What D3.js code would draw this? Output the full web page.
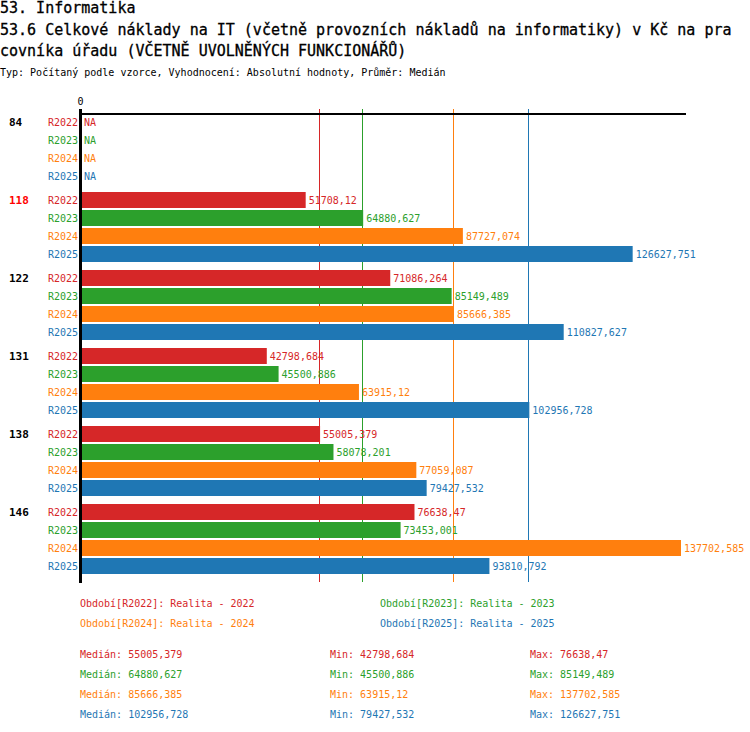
<!DOCTYPE html>
<html>
<head>
<meta charset="utf-8">
<script src="https://cdn.jsdelivr.net/npm/d3@7"></script>
<style>
  body { margin: 0; background: #fff; }
  text { font-family: "DejaVu Sans Mono", monospace; }
</style>
</head>
<body>
<svg id="chart"></svg>
<script>
// Data
const titleLines = [
    '53. Informatika',
    '53.6 Celkové náklady na IT (včetně provozních nákladů na informatiky) v Kč na pra',
    'covníka úřadu (VČETNĚ UVOLNĚNÝCH FUNKCIONÁŘŮ)'
];
const subtitle = 'Typ: Počítaný podle vzorce, Vyhodnocení: Absolutní hodnoty, Průměr: Medián';

const groups = ['84', '118', '122', '131', '138', '146'];
const highlighted = '118';
const series = ['R2022', 'R2023', 'R2024', 'R2025'];
const seriesNames = ['Realita - 2022', 'Realita - 2023', 'Realita - 2024', 'Realita - 2025'];

const valuesR2022 = [null, 51708.12, 71086.264, 42798.684, 55005.379, 76638.47];
const valuesR2023 = [null, 64880.627, 85149.489, 45500.886, 58078.201, 73453.001];
const valuesR2024 = [null, 87727.074, 85666.385, 63915.12, 77059.087, 137702.585];
const valuesR2025 = [null, 126627.751, 110827.627, 102956.728, 79427.532, 93810.792];

const medians = [55005.379, 64880.627, 85666.385, 102956.728];
const mins = [42798.684, 45500.886, 63915.12, 79427.532];
const maxs = [76638.47, 85149.489, 137702.585, 126627.751];

const colors = ['#d62728', '#2ca02c', '#ff7f0e', '#1f77b4'];

// Build rows
const allValues = [valuesR2022, valuesR2023, valuesR2024, valuesR2025];
const rows = [];
groups.forEach((g, gi) => {
    series.forEach((s, si) => {
        rows.push({ group: g, series: s, si: si, value: allValues[si][gi] });
    });
});

const fmt = v => String(v).replace('.', ',');

const width = 750, height = 732;
const svg = d3.select('#chart').attr('width', width).attr('height', height);

// Titles
svg.selectAll('.title')
    .data(titleLines)
    .join('text')
    .attr('class', 'title')
    .attr('x', 0)
    .attr('y', (d, i) => 13 + i * 21.5)
    .attr('font-size', 15)
    .attr('fill', '#000')
    .attr('stroke', '#000')
    .attr('stroke-width', 0.3)
    .text(d => d);

svg.append('text')
    .attr('x', 0).attr('y', 76)
    .attr('font-size', 10)
    .attr('fill', '#000')
    .text(subtitle);

// Scales
const maxVal = d3.max(allValues.flat());
const x = d3.scaleLinear().domain([0, maxVal]).range([80, 681]);
const y0 = d3.scaleBand().domain(groups).range([114, 114 + 78 * groups.length]);
const y1 = d3.scaleBand().domain(series).range([0, 70]).paddingInner(2 / 18);

const plotTop = 109;
const plotBottom = y0.range()[1];

// Median lines
svg.selectAll('.median')
    .data(medians)
    .join('line')
    .attr('class', 'median')
    .attr('x1', d => Math.round(x(d)) - 0.5)
    .attr('x2', d => Math.round(x(d)) - 0.5)
    .attr('y1', plotTop)
    .attr('y2', plotBottom)
    .attr('stroke', (d, i) => colors[i])
    .attr('stroke-width', 1);

// Bars
const barRows = rows.filter(d => d.value != null);
svg.selectAll('.bar')
    .data(barRows)
    .join('rect')
    .attr('class', 'bar')
    .attr('x', x(0))
    .attr('y', d => y0(d.group) + y1(d.series))
    .attr('width', d => x(d.value) - x(0))
    .attr('height', y1.bandwidth())
    .attr('fill', d => colors[d.si]);

// Value labels
svg.selectAll('.val')
    .data(rows)
    .join('text')
    .attr('class', 'val')
    .attr('x', d => d.value == null ? 84 : x(d.value) + 3)
    .attr('y', d => y0(d.group) + y1(d.series) + y1.bandwidth() / 2)
    .attr('dy', '0.36em')
    .attr('font-size', 10)
    .attr('fill', d => colors[d.si])
    .text(d => d.value == null ? 'NA' : fmt(d.value));

// Series labels
svg.selectAll('.slab')
    .data(rows)
    .join('text')
    .attr('class', 'slab')
    .attr('x', 78)
    .attr('y', d => y0(d.group) + y1(d.series) + y1.bandwidth() / 2)
    .attr('dy', '0.36em')
    .attr('text-anchor', 'end')
    .attr('font-size', 10)
    .attr('fill', d => colors[d.si])
    .text(d => d.series);

// Group labels
svg.selectAll('.glab')
    .data(groups)
    .join('text')
    .attr('class', 'glab')
    .attr('x', 9)
    .attr('y', d => y0(d) + y1.bandwidth() / 2)
    .attr('dy', '0.36em')
    .attr('font-size', 11)
    .attr('font-weight', 'bold')
    .attr('fill', d => d === highlighted ? '#ff0000' : '#000')
    .text(d => d);

// Axes
const axisTop = d3.axisTop(x).tickValues([0]).tickSize(5).tickPadding(4);
const gx = svg.append('g').attr('transform', 'translate(0,114)').call(axisTop);
gx.select('.domain').remove();
gx.selectAll('.tick line').attr('stroke', '#000').attr('stroke-width', 3);
gx.selectAll('.tick text')
    .attr('font-family', '"DejaVu Sans Mono", monospace')
    .attr('font-size', 10)
    .attr('fill', '#000');

svg.append('line')
    .attr('x1', x.range()[0]).attr('x2', x.range()[1] + 5)
    .attr('y1', 114).attr('y2', 114)
    .attr('stroke', '#000').attr('stroke-width', 2);

svg.append('line')
    .attr('x1', x(0) + 0.5).attr('x2', x(0) + 0.5)
    .attr('y1', 114).attr('y2', plotBottom + 1)
    .attr('stroke', '#000').attr('stroke-width', 3);

// Legend
svg.selectAll('.leg')
    .data(series)
    .join('text')
    .attr('class', 'leg')
    .attr('x', (d, i) => i % 2 === 0 ? 80 : 380)
    .attr('y', (d, i) => 607 + Math.floor(i / 2) * 20)
    .attr('font-size', 10)
    .attr('fill', (d, i) => colors[i])
    .text((d, i) => 'Období[' + d + ']: ' + seriesNames[i]);

// Stats
const stats = [
    { label: 'Medián: ', vals: medians, x: 80 },
    { label: 'Min: ', vals: mins, x: 330 },
    { label: 'Max: ', vals: maxs, x: 530 }
];
stats.forEach(st => {
    svg.selectAll(null)
        .data(st.vals)
        .join('text')
        .attr('x', st.x)
        .attr('y', (d, i) => 658 + i * 20)
        .attr('font-size', 10)
        .attr('fill', (d, i) => colors[i])
        .attr('xml:space', 'preserve')
        .style('white-space', 'pre')
        .text(d => st.label + fmt(d));
});
</script>
</body>
</html>
